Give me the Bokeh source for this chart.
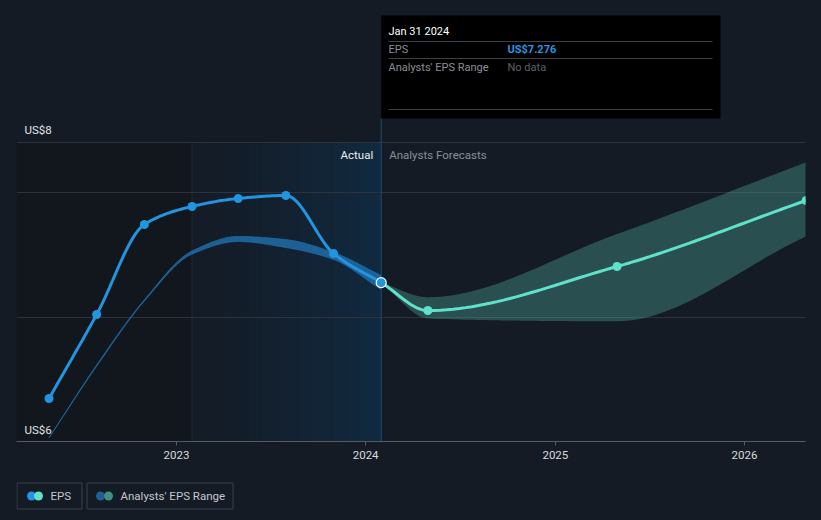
import numpy as np
import pandas as pd
from bokeh.plotting import figure
from bokeh.layouts import column
from bokeh.models import Range1d, FixedTicker, DatetimeTickFormatter
from bokeh.core.properties import value
from bokeh.embed import file_html
from bokeh.resources import INLINE

# ---------------- data ----------------
eps_dates = ["2022-04-30", "2022-07-31", "2022-10-31", "2023-01-31",
             "2023-04-30", "2023-07-31", "2023-10-31", "2024-01-31"]
eps_values = [6.345, 7.02, 7.743, 7.888, 7.952, 7.976, 7.51, 7.276]

past_range_low = [6.03, 6.605, 7.128, 7.505, 7.606, 7.558, 7.462, 7.22]
past_range_high = [6.03, 6.615, 7.138, 7.53, 7.647, 7.622, 7.518, 7.333]

forecast_dates = ["2024-01-31", "2024-04-30", "2025-04-30", "2026-04-30"]
forecast_values = [7.276, 7.052, 7.406, 7.936]
forecast_low = [7.276, 6.988, 6.966, 7.647]
forecast_high = [7.276, 7.159, 7.667, 8.243]

year_ticks = ["2023-01-01", "2024-01-01", "2025-01-01", "2026-01-01"]
y_axis_min = 6.0
y_axis_max = 8.4
currency = "US$"
legend_labels = ["EPS", "Analysts' EPS Range"]

# ---------------- layout ----------------
BG = "#151b24"
FONT = "Roboto"
W = 821
H_MAIN = 470
H_LEG = 50
FRAME_L, FRAME_R, FRAME_T, FRAME_B = 16, 805, 0, 441   # page px
PX_PER_YEAR = 189.3
PX_PER_UNIT = 124.5
MS_PER_YEAR = 365.25 * 86400000.0


def ms(d):
    return pd.Timestamp(d).value / 1e6


ms_per_px = MS_PER_YEAR / PX_PER_YEAR
x0 = ms("2023-01-01") - (176 - FRAME_L) * ms_per_px
x1 = x0 + (FRAME_R - FRAME_L) * ms_per_px
y_top = y_axis_min + (FRAME_B - FRAME_T) / PX_PER_UNIT


def xpx(px):
    return x0 + (px - FRAME_L) * ms_per_px


def ypx(py):
    return y_axis_min + (FRAME_B - py) / PX_PER_UNIT


def monotone(xs, ys, n=30):
    xs = np.asarray(xs, float)
    ys = np.asarray(ys, float)
    h = np.diff(xs)
    d = np.diff(ys) / h
    m = np.zeros_like(ys)
    m[0], m[-1] = d[0], d[-1]
    for i in range(1, len(xs) - 1):
        if d[i - 1] * d[i] <= 0:
            m[i] = 0.0
        else:
            w1 = 2 * h[i] + h[i - 1]
            w2 = h[i] + 2 * h[i - 1]
            m[i] = (w1 + w2) / (w1 / d[i - 1] + w2 / d[i])
    ox, oy = [], []
    for i in range(len(h)):
        t = np.linspace(0, 1, n, endpoint=(i == len(h) - 1))
        h00 = 2 * t**3 - 3 * t**2 + 1
        h10 = t**3 - 2 * t**2 + t
        h01 = -2 * t**3 + 3 * t**2
        h11 = t**3 - t**2
        ox.extend(xs[i] + t * h[i])
        oy.extend(h00 * ys[i] + h10 * h[i] * m[i] + h01 * ys[i + 1] + h11 * h[i] * m[i + 1])
    return np.array(ox), np.array(oy)


ex = [ms(d) for d in eps_dates]
fx = [ms(d) for d in forecast_dates]
t_last = ex[-1]
t_year_before = ex[3]

p = figure(width=W, height=H_MAIN, output_backend="svg", toolbar_location=None,
           x_axis_type="datetime", y_axis_location=None,
           x_range=Range1d(x0, x1), y_range=Range1d(y_axis_min, y_top),
           min_border_left=FRAME_L, min_border_right=W - FRAME_R,
           min_border_top=FRAME_T, min_border_bottom=H_MAIN - FRAME_B,
           styles={"background-color": BG})
p.background_fill_color = BG
p.border_fill_color = BG
p.outline_line_color = None
p.xgrid.visible = False
p.ygrid.ticker = FixedTicker(ticks=[7, 8, y_axis_max])
p.ygrid.grid_line_color = "#2c333c"
p.ygrid.grid_line_width = 1

ax = p.xaxis[0]
ax.ticker = FixedTicker(ticks=[ms(d) for d in year_ticks])
ax.formatter = DatetimeTickFormatter(years="%Y", months="%Y", days="%Y", hours="%Y",
                                     minutes="%Y", seconds="%Y", milliseconds="%Y")
ax.axis_line_color = "#555b63"
ax.major_tick_line_color = "#555b63"
ax.major_tick_out = 4
ax.major_tick_in = 0
ax.minor_tick_line_color = None
ax.major_label_text_color = "#d9dbde"
ax.major_label_text_font = FONT
ax.major_label_text_font_size = "11.5px"
ax.major_label_standoff = 5

# background regions
p.quad(left=x0, right=t_year_before, bottom=y_axis_min, top=y_axis_max,
       fill_color="#12161d", line_color=None, level="image")
n_strips = 60
edges = np.linspace(t_year_before, t_last, n_strips + 1)
c0 = np.array([20, 28, 39])
c1 = np.array([17, 42, 64])
cols = []
for i in range(n_strips):
    c = c0 + (c1 - c0) * (i / (n_strips - 1)) ** 1.4
    cols.append("#%02x%02x%02x" % tuple(int(round(v)) for v in c))
p.quad(left=edges[:-1], right=t_last, bottom=y_axis_min, top=y_axis_max,
       fill_color=cols, line_color=None, level="image")
p.segment(x0=[t_year_before], y0=[y_axis_min], x1=[t_year_before], y1=[y_axis_max],
          line_color="#1f2d3b", line_width=1, level="image")
p.segment(x0=[t_last], y0=[y_axis_min], x1=[t_last], y1=[ypx(118)],
          line_color="#1d4a70", line_width=1)

# past analysts range
bx, bl = monotone(ex, past_range_low)
_, bh = monotone(ex, past_range_high)
p.varea(x=bx, y1=bl, y2=bh, fill_color="#2070ae", fill_alpha=0.8)
p.line(bx, bl, line_color="#2070ae", line_alpha=0.7, line_width=1)
p.line(bx, bh, line_color="#2070ae", line_alpha=0.7, line_width=1)

# forecast range
gx, gl = monotone(fx, forecast_low)
_, gh = monotone(fx, forecast_high)
p.varea(x=gx, y1=gl, y2=gh, fill_color="#58beaf", fill_alpha=0.32)

# EPS lines
lx, ly = monotone(ex, eps_values)
p.line(lx, ly, line_color="#2394df", line_width=3)
p.scatter(ex[:-1], eps_values[:-1], size=9, fill_color="#2394df", line_color=None)
kx, ky = monotone(fx, forecast_values)
p.line(kx, ky, line_color="#5fe1ca", line_width=3)
p.scatter(fx[1:], forecast_values[1:], size=9, fill_color="#5fe1ca", line_color=None)
p.scatter([t_last], [eps_values[-1]], size=10, fill_color="#2394df",
          line_color="white", line_width=1.2)

# axis labels
p.text(x=[x0], y=[y_axis_max], text=[f"{currency}{y_axis_max:.0f}"], x_offset=8, y_offset=-6,
       text_font=value(FONT), text_font_size="11.5px", text_color="#e4e5e7",
       text_baseline="bottom", text_align="left")
p.text(x=[x0], y=[y_axis_min], text=[f"{currency}{y_axis_min:.0f}"], x_offset=8, y_offset=-5,
       text_font=value(FONT), text_font_size="11.5px", text_color="#e4e5e7",
       text_baseline="bottom", text_align="left")
p.text(x=[t_last], y=[y_axis_max], text=["Actual"], x_offset=-8, y_offset=12,
       text_font=value(FONT), text_font_size="11.5px", text_color="#eceef0",
       text_baseline="middle", text_align="right")
p.text(x=[t_last], y=[y_axis_max], text=["Analysts Forecasts"], x_offset=8, y_offset=12,
       text_font=value(FONT), text_font_size="11.5px", text_color="#8a8f96",
       text_baseline="middle", text_align="left")

# tooltip
p.quad(left=t_last, right=xpx(720), bottom=ypx(118), top=ypx(15),
       fill_color="black", line_color=None, level="overlay")
for yy in (41, 58, 109):
    p.segment(x0=[xpx(388)], y0=[ypx(yy)], x1=[xpx(712)], y1=[ypx(yy)],
              line_color="#3c3f44", line_width=1, level="overlay")
date_txt = pd.Timestamp(eps_dates[-1]).strftime("%b %d %Y")
tip = [
    (388, 31, date_txt, "#ffffff", "normal"),
    (388, 48.5, "EPS", "#8b8f95", "normal"),
    (507, 48.5, f"{currency}{eps_values[-1]:.3f}", "#2a96e0", "bold"),
    (388, 66.5, "Analysts' EPS Range", "#8b8f95", "normal"),
    (507, 66.5, "No data", "#5e6268", "normal"),
]
for px_, py_, t, c, st in tip:
    p.text(x=[xpx(px_)], y=[ypx(py_)], text=[t], text_font=value(FONT),
           text_font_size="11px", text_color=c, text_font_style=st,
           text_baseline="middle", text_align="left", level="overlay")

# ---------------- legend strip ----------------
lg = figure(width=W, height=H_LEG, output_backend="svg", toolbar_location=None,
            x_axis_location=None, y_axis_location=None,
            x_range=Range1d(FRAME_L, FRAME_R), y_range=Range1d(H_LEG, 0),
            min_border_left=FRAME_L, min_border_right=W - FRAME_R,
            min_border_top=0, min_border_bottom=0,
            styles={"background-color": BG})
lg.background_fill_color = BG
lg.border_fill_color = BG
lg.outline_line_color = None
lg.grid.visible = False

box_left = [16.5, 86.5]
box_right = [81.5, 232.5]
box_top = 12.5
box_bottom = 38.5
dot_x = [(31, 38), (100, 108)]
dot_colors = [("#2394df", "#5fe1ca"), ("#1f5f94", "#3f8e88")]
text_x = [50, 120]
cy = 25.5
lg.quad(left=box_left, right=box_right, top=box_top, bottom=box_bottom,
        fill_color=BG, line_color="#3b414a", line_width=1)
for (xa, xb), (ca, cb) in zip(dot_x, dot_colors):
    lg.scatter([xa], [cy], size=9, fill_color=ca, line_color=None)
    lg.scatter([xb], [cy], size=9, fill_color=cb, line_color=None)
lg.text(x=text_x, y=[cy, cy], text=legend_labels, text_font=value(FONT),
        text_font_size="11.5px", text_color="#c4c7cb", text_baseline="middle",
        text_align="left")

layout = column(p, lg, spacing=0, styles={"background-color": BG})
open("out.html", "w").write(file_html(layout, INLINE))
